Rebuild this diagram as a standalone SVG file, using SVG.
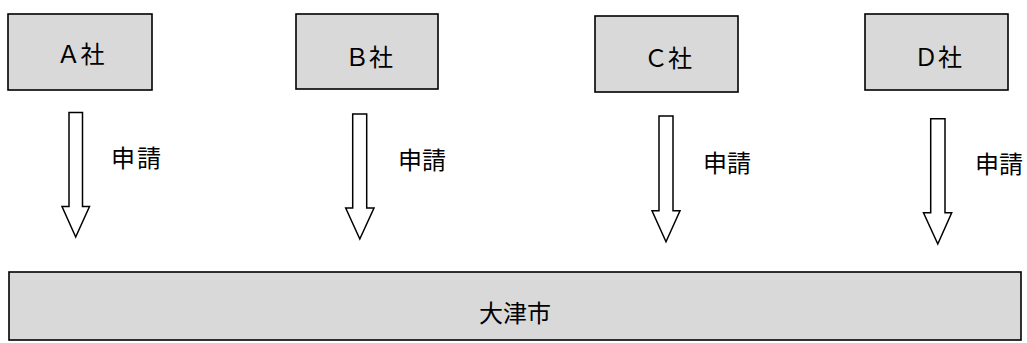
<svg xmlns="http://www.w3.org/2000/svg" width="1027" height="343" viewBox="0 0 1027 343">
<style>
.box{fill:#d9d9d9;stroke:#000;stroke-width:1.6}
.arr{fill:#fff;stroke:#000;stroke-width:1.5;stroke-linejoin:miter}
text{font-family:"Noto Sans CJK JP","Noto Sans CJK SC",sans-serif;font-size:24px;fill:#000}
.c{text-anchor:middle}
</style>
<rect width="1027" height="343" fill="#fff"/>
<g id="nodeA"><rect class="box" x="8" y="14" width="144" height="76"/><text class="c" x="80.5" y="62.5">Ａ社</text></g>
<g id="nodeB"><rect class="box" x="296" y="14" width="142" height="75"/><text class="c" x="369" y="65.5">Ｂ社</text></g>
<g id="nodeC"><rect class="box" x="595" y="16" width="143" height="76"/><text class="c" x="668" y="66.5">Ｃ社</text></g>
<g id="nodeD"><rect class="box" x="865" y="14" width="143" height="76"/><text class="c" x="938" y="65.5">Ｄ社</text></g>
<g id="nodeOtsu"><rect class="box" x="9" y="272" width="1012" height="68"/><text class="c" x="515" y="321.5">大津市</text></g>
<g id="connectors">
<path class="arr" d="M69,112.5 H82.5 V206.5 H89.5 L75.7,237 L62,206.5 H69 Z"/>
<path class="arr" d="M352.7,114 H366.7 V208 H374 L359.8,239 L345.7,208 H352.7 Z"/>
<path class="arr" d="M659,116 H673 V210.7 H680 L666,241.7 L652,210.7 H659 Z"/>
<path class="arr" d="M930.7,118.7 H945 V212.7 H951.7 L937.8,244 L923.5,212.7 H930.7 Z"/>
<text x="111" y="166.5" letter-spacing="2">申請</text>
<text x="398" y="169">申請</text>
<text x="703" y="171.5">申請</text>
<text x="975" y="172.5">申請</text>
</g>
</svg>
